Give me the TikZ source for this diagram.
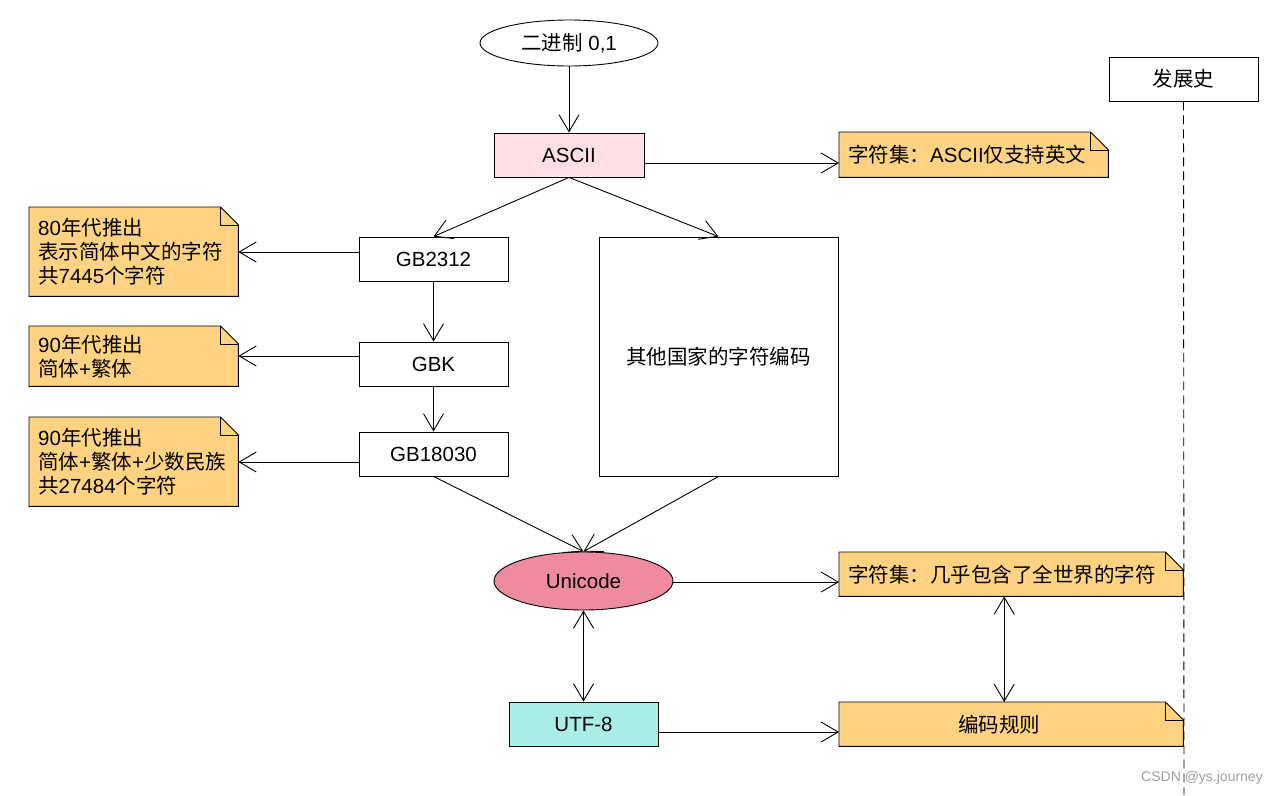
\documentclass[tikz,border=0pt]{standalone}
\usepackage{fontspec}
\setmainfont{Liberation Sans}
\newfontfamily\cjk{Noto Sans CJK SC}
\usetikzlibrary{arrows.meta,shapes.geometric,backgrounds}
\newcommand\zh[1]{{\cjk #1}}
\definecolor{asciifill}{RGB}{255,223,229}
\definecolor{notefill}{RGB}{255,211,130}
\definecolor{unifill}{RGB}{238,139,158}
\definecolor{utffill}{RGB}{168,238,230}
\definecolor{wmgray}{RGB}{160,160,160}
\newcommand\foldnote[1]{%
  \begin{pgfonlayer}{background}
    \draw[line width=0.9pt, fill=notefill] (#1.north west) -- ([xshift=-18pt]#1.north east) -- ([yshift=-18pt]#1.north east) -- (#1.south east) -- (#1.south west) -- cycle;
    \draw[line width=0.9pt] ([xshift=-18pt]#1.north east) -- ([xshift=-18pt,yshift=-18pt]#1.north east) -- ([yshift=-18pt]#1.north east);
  \end{pgfonlayer}}
\begin{document}
\begin{tikzpicture}[x=1pt,y=-1pt,
  font=\fontsize{20.5}{24}\selectfont,
  box/.style={draw, line width=0.9pt, rectangle, inner sep=0pt, minimum width=149pt, minimum height=44pt},
  oval/.style={draw, line width=0.9pt, ellipse, inner sep=0pt},
  notebox/.style={rectangle, inner sep=0pt, inner xsep=9pt, align=left, anchor=north west},
  arr/.style={line width=0.9pt, -{Straight Barb[length=17pt,width=20pt]}},
  dbl/.style={line width=0.9pt, {Straight Barb[length=17pt,width=20pt]}-{Straight Barb[length=17pt,width=20pt]}},
  lifeline/.style={line width=0.9pt, dash pattern=on 9pt off 5pt}]
\begin{pgfonlayer}{background}
  \fill[white] (0,0) rectangle (1284,795);
\end{pgfonlayer}
\useasboundingbox (0,0) rectangle (1284,795);

\node[oval, minimum width=178pt, minimum height=46pt] (bin) at (569,43) {\zh{二进制} 0,1};
\node[box, fill=asciifill, minimum width=150pt] (ascii) at (569,155) {ASCII};
\node[notebox, text width=251pt, minimum height=45pt] (nascii) at (839,132) {\zh{字符集：}ASCII\zh{仅支持英文}};
\foldnote{nascii}

\node[box] (gb2312) at (433.5,259) {GB2312};
\node[box, minimum width=239pt, minimum height=239pt] (other) at (718.5,356.5) {\zh{其他国家的字符编码}};
\node[notebox, text width=191pt, minimum height=89pt] (n1) at (29,207) {80\zh{年代推出}\\\zh{表示简体中文的字符}\\\zh{共}7445\zh{个字符}};
\foldnote{n1}
\node[box] (gbk) at (433.5,364) {GBK};
\node[notebox, text width=191pt, minimum height=60pt] (n2) at (29,326) {90\zh{年代推出}\\\zh{简体}+\zh{繁体}};
\foldnote{n2}
\node[box] (gb18030) at (433.5,454) {GB18030};
\node[notebox, text width=191pt, minimum height=89pt] (n3) at (29,417) {90\zh{年代推出}\\\zh{简体}+\zh{繁体}+\zh{少数民族}\\\zh{共}27484\zh{个字符}};
\foldnote{n3}

\node[oval, fill=unifill, minimum width=179pt, minimum height=58pt] (uni) at (583.5,581) {Unicode};
\node[notebox, text width=326pt, minimum height=44pt] (nuni) at (839,552) {\zh{字符集：几乎包含了全世界的字符}};
\foldnote{nuni}
\node[box, fill=utffill] (utf) at (583.5,724) {UTF-8};
\node[notebox, text width=326pt, minimum height=44pt] (nrule) at (839,702) {\hspace*{110pt}\zh{编码规则}};
\foldnote{nrule}

\node[box] (hist) at (1183.5,79) {\zh{发展史}};
\coordinate (histend) at (1184,795);

\draw[arr] (bin) -- (ascii);
\draw[arr] ([yshift=-8pt]ascii.east) -- ([yshift=-8pt]ascii.east -| nascii.west);
\draw[arr] (ascii.south) -- (gb2312.north);
\draw[arr] (ascii.south) -- (other.north);
\draw[arr] ([yshift=7pt]gb2312.west) -- ([yshift=7pt]gb2312.west -| n1.east);
\draw[arr] (gb2312) -- (gbk);
\draw[arr] ([yshift=8pt]gbk.west) -- ([yshift=8pt]gbk.west -| n2.east);
\draw[arr] (gbk) -- (gb18030);
\draw[arr] ([yshift=-8pt]gb18030.west) -- ([yshift=-8pt]gb18030.west -| n3.east);
\draw[arr] (gb18030.south) -- (uni.north);
\draw[arr] (other.south) -- (uni.north);
\draw[arr] ([yshift=-1pt]uni.east) -- ([yshift=-1pt]uni.east -| nuni.west);
\draw[dbl] (uni) -- (utf);
\draw[arr] ([yshift=-8pt]utf.east) -- ([yshift=-8pt]utf.east -| nrule.west);
\draw[dbl] ([xshift=-7pt]nuni.south) -- ([xshift=-7pt]nrule.north);
\draw[lifeline] (hist.south) -- (histend);
\node[text=wmgray, font=\fontsize{14}{16}\selectfont] (wm) at (1202,778) {CSDN @ys.journey};
\end{tikzpicture}
\end{document}
